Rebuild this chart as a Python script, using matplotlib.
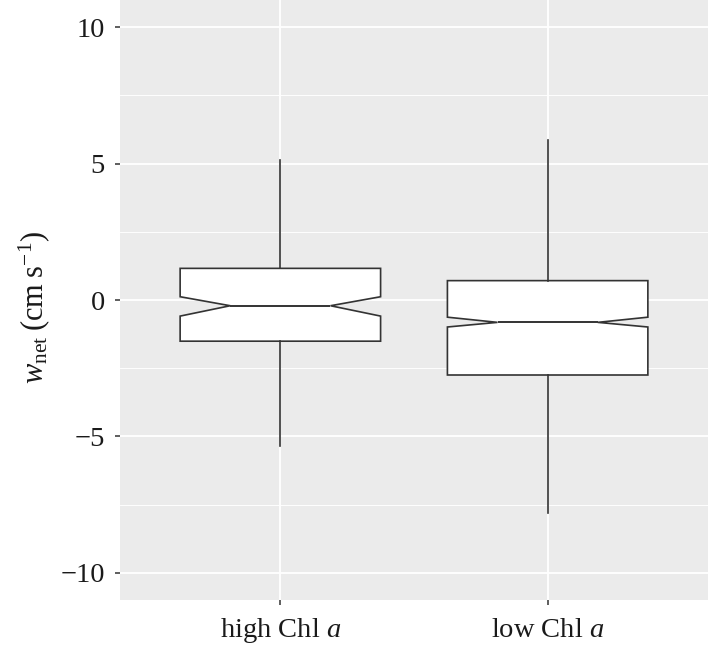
import matplotlib
matplotlib.use("Agg")
import matplotlib.pyplot as plt
from matplotlib.ticker import MultipleLocator

plt.rcParams['font.family'] = ['Liberation Serif', 'DejaVu Serif']
plt.rcParams['mathtext.fontset'] = 'custom'
plt.rcParams['mathtext.rm'] = 'Liberation Serif'
plt.rcParams['mathtext.it'] = 'Liberation Serif:italic'
plt.rcParams['mathtext.bf'] = 'Liberation Serif:bold'

categories = ['high Chl $a$', 'low Chl $a$']
whisker_low = [-5.35, -7.81]
q1 = [-1.51, -2.75]
median = [-0.21, -0.82]
q3 = [1.16, 0.71]
whisker_high = [5.13, 5.86]
notch_low = [-0.59, -0.99]
notch_high = [0.12, -0.63]

stats = []
for i in range(len(categories)):
    stats.append(dict(whislo=whisker_low[i], q1=q1[i], med=median[i], q3=q3[i],
                      whishi=whisker_high[i], cilo=notch_low[i], cihi=notch_high[i],
                      fliers=[], label=categories[i]))

fig = plt.figure(figsize=(7.08, 6.47), dpi=100)
ax = fig.add_axes([120/708, 47/647, 588/708, 600/647])
ax.set_facecolor('#EBEBEB')
for s in ax.spines.values():
    s.set_visible(False)

ax.yaxis.set_major_locator(MultipleLocator(5))
ax.yaxis.set_minor_locator(MultipleLocator(2.5))
ax.grid(True, which='major', color='white', linewidth=1.3)
ax.grid(True, which='minor', axis='y', color='white', linewidth=0.65)
ax.set_axisbelow(True)

edge = '#333333'
ax.bxp(stats, positions=[1, 2], widths=0.75, shownotches=True, showcaps=False,
       showfliers=False, patch_artist=True,
       boxprops=dict(facecolor='white', edgecolor=edge, linewidth=1.2),
       medianprops=dict(color=edge, linewidth=1.4),
       whiskerprops=dict(color=edge, linewidth=1.2),
       zorder=3)

ax.set_xlim(0.4, 2.6)
ax.set_ylim(-11, 11)
ax.set_xticks([1, 2])
ax.set_xticklabels(categories)
ax.set_yticks([-10, -5, 0, 5, 10])
ax.set_yticklabels(['\u221210', '\u22125', '0', '5', '10'])
ax.tick_params(axis='both', which='major', length=3.6, width=1.1, color='#333333',
               labelsize=20.5, labelcolor='#1a1a1a')
ax.tick_params(axis='y', which='major', pad=7.2)
ax.tick_params(axis='x', which='major', pad=23)
ax.tick_params(axis='y', which='minor', length=0)
for t in ax.get_xticklabels():
    t.set_verticalalignment('baseline')
ax.set_ylabel(r'$w_{\mathrm{net}}\;(\mathrm{cm\;s^{-1}})$', fontsize=22, color='#1a1a1a')
ax.yaxis.set_label_coords(-68/588, 0.487)

fig.savefig('out.png', dpi=100)
